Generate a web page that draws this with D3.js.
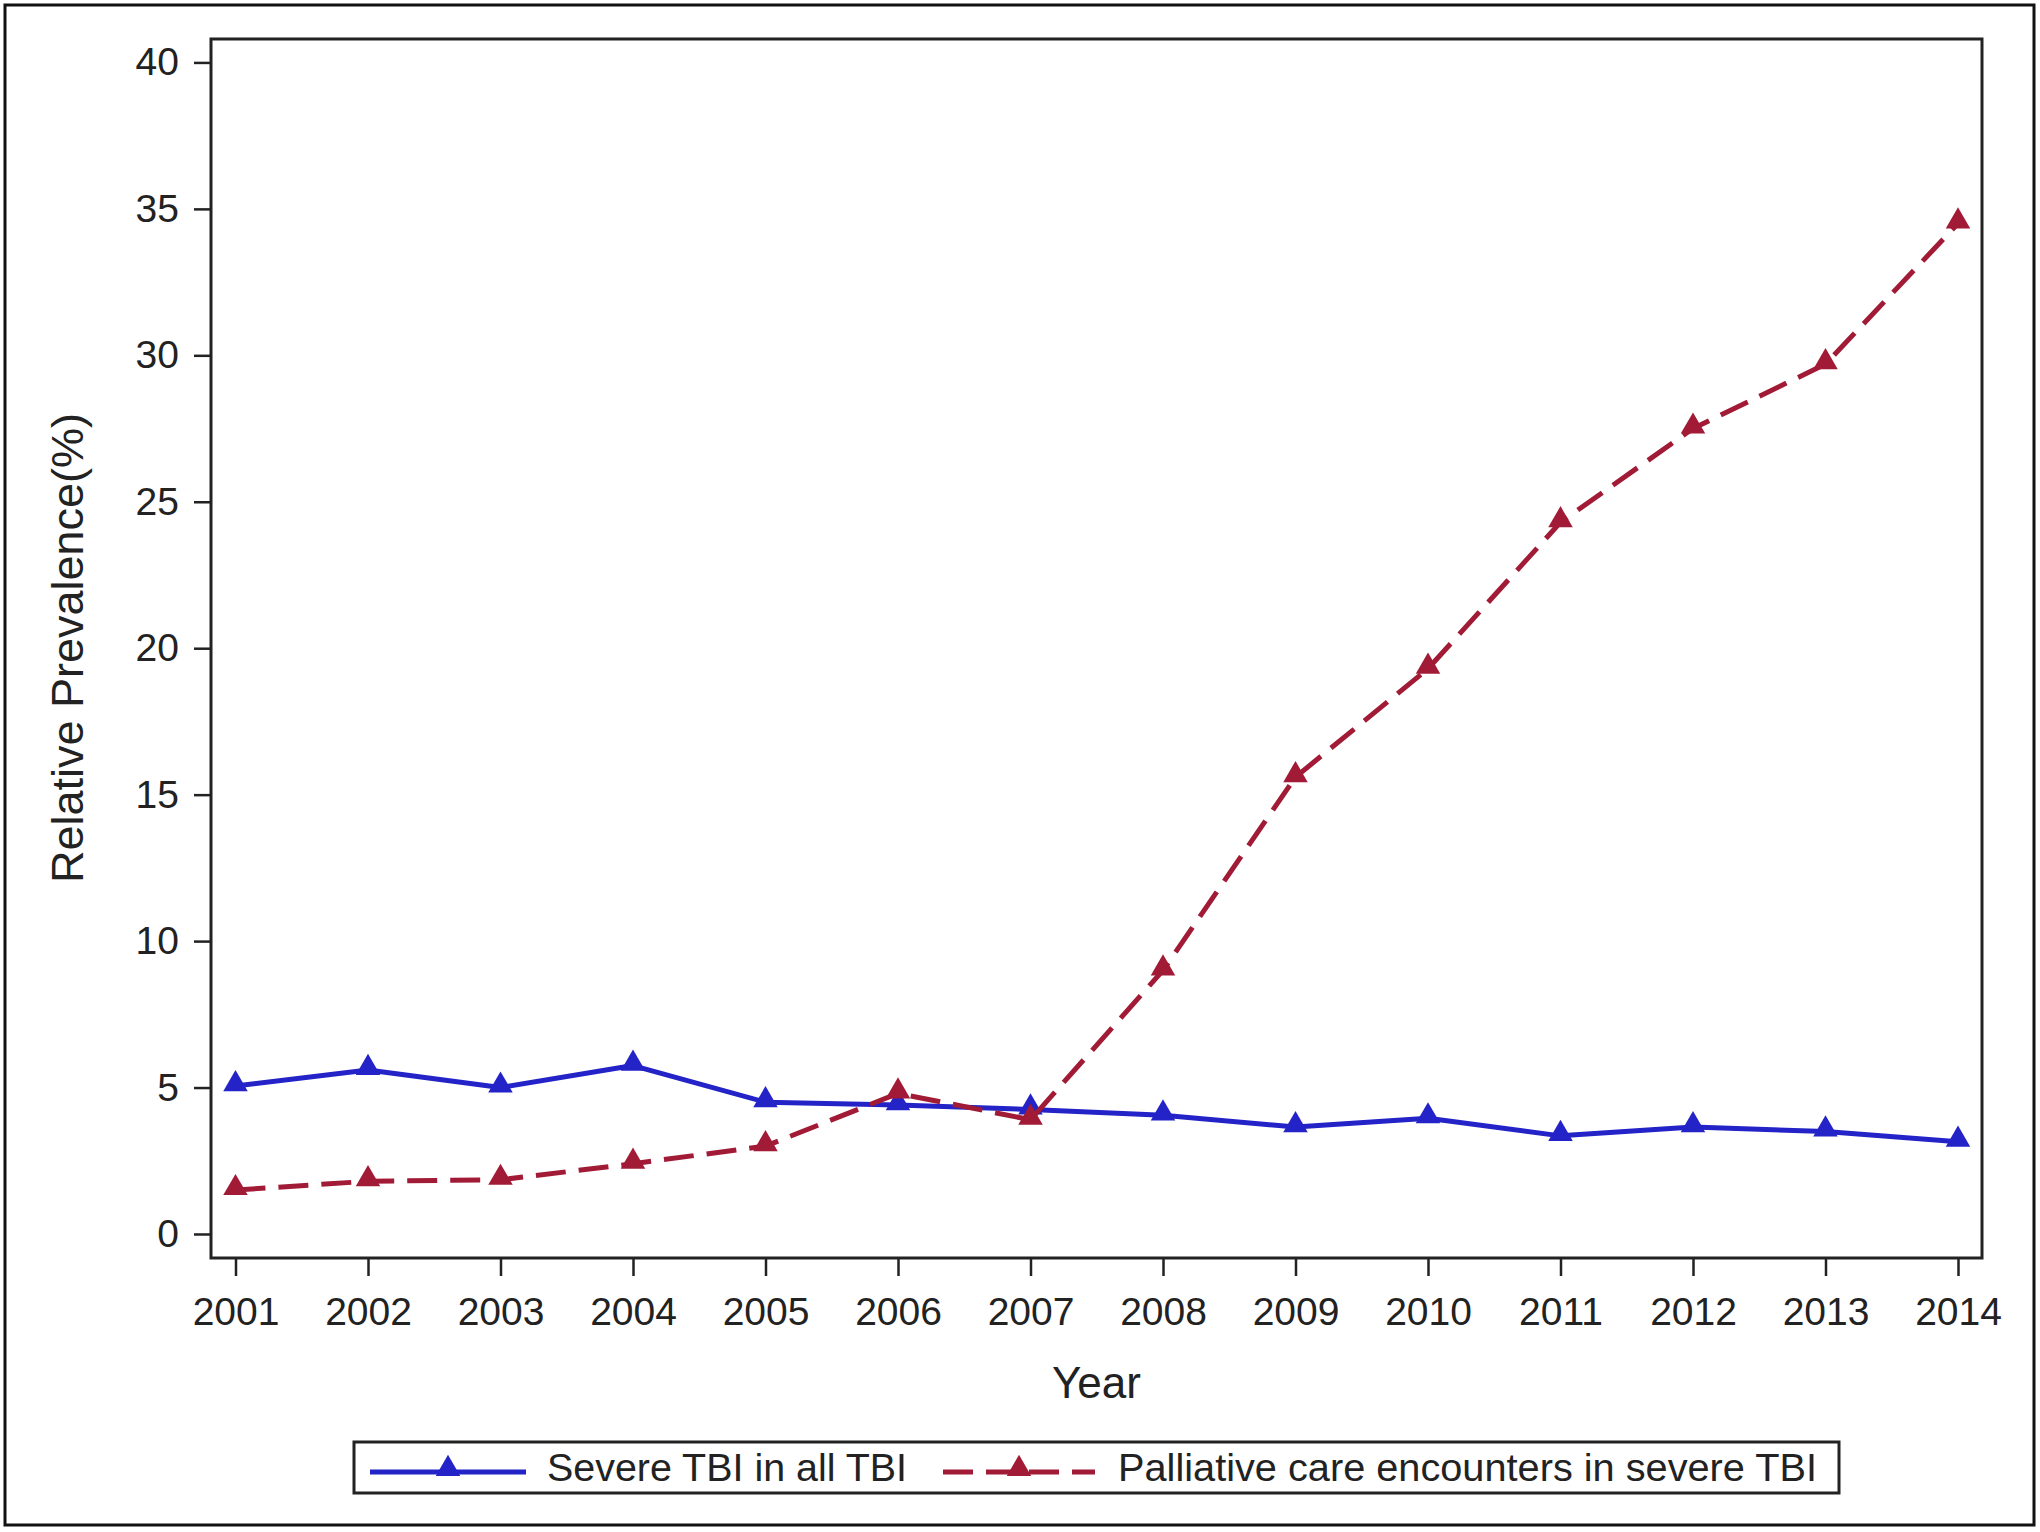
<!DOCTYPE html>
<html>
<head>
<meta charset="utf-8">
<script src="https://cdn.jsdelivr.net/npm/d3@7"></script>
<style>
  body { margin: 0; background: #fff; }
  text { font-family: "Liberation Sans", Arial, sans-serif; fill: #222; }
</style>
</head>
<body>
<div id="chart-area"></div>
<script>
// Data
var years = [2001, 2002, 2003, 2004, 2005, 2006, 2007, 2008, 2009, 2010, 2011, 2012, 2013, 2014];
var severeTBI = [5.05, 5.6, 5.0, 5.75, 4.5, 4.4, 4.25, 4.05, 3.65, 3.95, 3.35, 3.65, 3.5, 3.15];
var palliative = [1.5, 1.8, 1.85, 2.4, 3.0, 4.8, 3.9, 9.0, 15.6, 19.3, 24.3, 27.5, 29.7, 34.5];
var yTicks = [0, 5, 10, 15, 20, 25, 30, 35, 40];
var seriesNames = ["Severe TBI in all TBI", "Palliative care encounters in severe TBI"];

var W = 2040, H = 1532;
var plot = { left: 211, right: 1982, top: 39, bottom: 1258 };
var blue = "#2323c8", red = "#a21b36";

var svg = d3.select("#chart-area")
  .append("svg")
  .attr("width", W)
  .attr("height", H);

// outer border
svg.append("rect")
  .attr("x", 5).attr("y", 5)
  .attr("width", 2029).attr("height", 1520)
  .attr("fill", "none")
  .attr("stroke", "#111")
  .attr("stroke-width", 3);

// Scales
var x = d3.scaleLinear()
  .domain([2001, 2014])
  .range([plot.left + 24.5, plot.right - 24]);
var y = d3.scaleLinear()
  .domain([-0.82, 40.8])
  .range([plot.bottom, plot.top]);

// Axes
var xAxis = svg.append("g")
  .attr("class", "x axis")
  .attr("transform", "translate(0," + plot.bottom + ")")
  .call(d3.axisBottom(x).tickValues(years).tickFormat(d3.format("d")).tickSize(18).tickPadding(21));
var yAxis = svg.append("g")
  .attr("class", "y axis")
  .attr("transform", "translate(" + plot.left + ",0)")
  .call(d3.axisLeft(y).tickValues(yTicks).tickSize(17).tickPadding(15));

svg.selectAll(".axis .domain").remove();
svg.selectAll(".axis line").attr("stroke", "#222").attr("stroke-width", 2.5);
svg.selectAll(".axis text").attr("font-size", "39px").attr("fill", "#222")
  .style("font-family", "'Liberation Sans', Arial, sans-serif");

// plot frame
svg.append("rect")
  .attr("x", plot.left).attr("y", plot.top)
  .attr("width", plot.right - plot.left)
  .attr("height", plot.bottom - plot.top)
  .attr("fill", "none")
  .attr("stroke", "#222")
  .attr("stroke-width", 3);

// Labels
svg.append("text")
  .attr("x", (plot.left + plot.right) / 2)
  .attr("y", 1398)
  .attr("font-size", "44px")
  .attr("text-anchor", "middle")
  .text("Year");
svg.append("text")
  .attr("transform", "translate(83," + 648 + ") rotate(-90)")
  .attr("font-size", "45px")
  .attr("text-anchor", "middle")
  .text("Relative Prevalence(%)");

// Lines
var line = d3.line()
  .x(function(d) { return x(d[0]); })
  .y(function(d) { return y(d[1]); });

var triangle = d3.symbol().type(d3.symbolTriangle).size(260);

function drawSeries(values, color, dash) {
  var pts = years.map(function(yr, i) { return [yr, values[i]]; });
  svg.append("path")
    .attr("d", line(pts))
    .attr("fill", "none")
    .attr("stroke", color)
    .attr("stroke-width", 5)
    .attr("stroke-dasharray", dash)
    .attr("stroke-linejoin", "round");
  svg.append("g").selectAll("path")
    .data(pts)
    .enter()
    .append("path")
    .attr("d", triangle)
    .attr("transform", function(d) { return "translate(" + x(d[0]) + "," + (y(d[1]) - 2) + ")"; })
    .attr("fill", color);
}

drawSeries(severeTBI, blue, null);
drawSeries(palliative, red, "30,13");

// Legend
var legend = svg.append("g").attr("class", "legend");
legend.append("rect")
  .attr("x", 354).attr("y", 1442)
  .attr("width", 1485).attr("height", 51)
  .attr("fill", "#fff")
  .attr("stroke", "#222")
  .attr("stroke-width", 3);

var legendItems = [
  { name: seriesNames[0], color: blue, dash: null, x0: 370, x1: 526, tx: 547, tw: 360 },
  { name: seriesNames[1], color: red, dash: "30,13", x0: 943, x1: 1095, tx: 1118, tw: 699 }
];
legendItems.forEach(function(it) {
  legend.append("line")
    .attr("x1", it.x0).attr("x2", it.x1)
    .attr("y1", 1472).attr("y2", 1472)
    .attr("stroke", it.color)
    .attr("stroke-width", 5)
    .attr("stroke-dasharray", it.dash);
  legend.append("path")
    .attr("d", triangle)
    .attr("transform", "translate(" + (it.x0 + it.x1) / 2 + ",1469)")
    .attr("fill", it.color);
  legend.append("text")
    .attr("x", it.tx)
    .attr("y", 1481)
    .attr("font-size", "38px")
    .attr("textLength", it.tw)
    .attr("lengthAdjust", "spacingAndGlyphs")
    .text(it.name);
});
</script>
</body>
</html>
